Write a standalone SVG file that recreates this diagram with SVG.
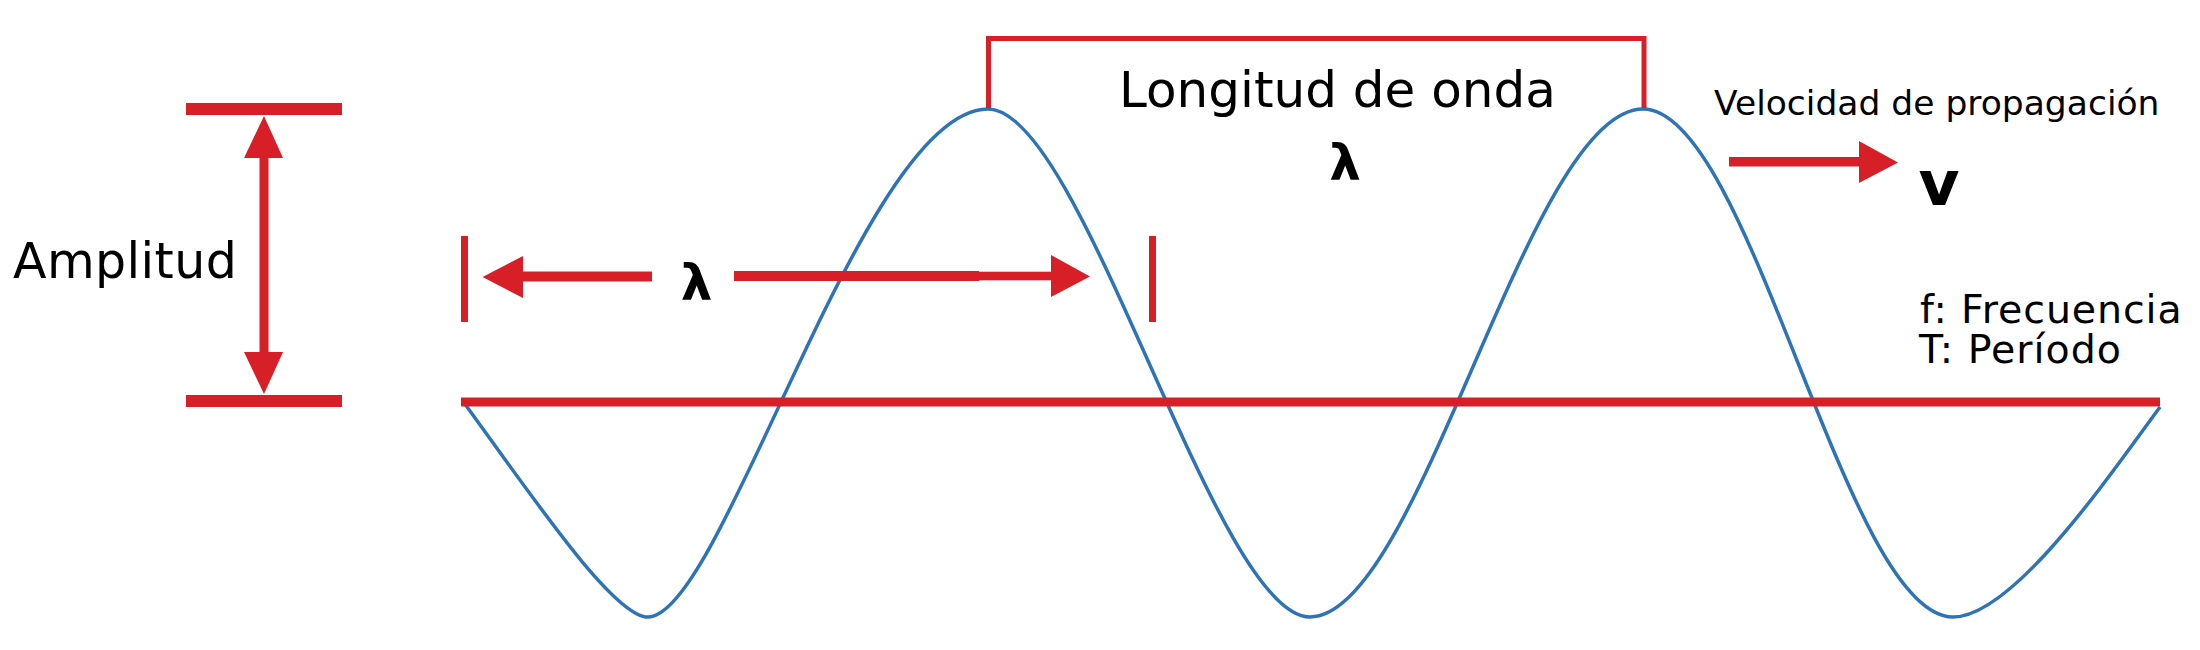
<svg xmlns="http://www.w3.org/2000/svg" width="2200" height="650" viewBox="0 0 2200 650">
<style>
.red{fill:#D71F27}
.wave{fill:none;stroke:#2E74B5;stroke-width:3.5;stroke-linejoin:round}
.bracket{fill:none;stroke:#D71F27;stroke-width:5}
.t{font-family:"DejaVu Sans","Verdana",sans-serif;fill:#000}
.b{font-family:"DejaVu Sans","Verdana",sans-serif;font-weight:bold;fill:#000}
</style>
<rect width="2200" height="650" fill="#fff"/>
<g id="wave">
<path class="wave" d="M462,400 C530,493 613,617 648,617 C723,617 863,109 988,109 C1083,109 1215,617 1310,617 C1420,617 1528,109 1643,109 C1751,109 1845,617 1953,617 C2013,617 2110,475 2160,407"/>
</g>
<g id="baseline">
<rect class="red" x="461" y="397.5" width="1699" height="9"/>
</g>
<g id="amplitud">
<rect class="red" x="186" y="103" width="156" height="12"/>
<rect class="red" x="186" y="395" width="156" height="12"/>
<rect class="red" x="259.5" y="156" width="9" height="198"/>
<polygon class="red" points="264,116 244,158 283,158"/>
<polygon class="red" points="244,352 283,352 264,394"/>
<text class="t" x="13" y="278" font-size="49" letter-spacing="0.4">Amplitud</text>
</g>
<g id="lambda-dim">
<rect class="red" x="461" y="236" width="7" height="86"/>
<rect class="red" x="1149" y="236" width="7" height="86"/>
<rect class="red" x="521" y="271.5" width="131" height="10"/>
<polygon class="red" points="482.5,277 523,256 523,298"/>
<rect class="red" x="734" y="271" width="245" height="10"/>
<rect class="red" x="978" y="271.7" width="75" height="8.6"/>
<polygon class="red" points="1051,255 1051,297 1090,276.5"/>
<text class="b" x="696.5" y="300" font-size="50" text-anchor="middle">λ</text>
</g>
<g id="longitud">
<polyline class="bracket" points="988.5,108 988.5,38.5 1644,38.5 1644,108"/>
<text class="t" x="1119" y="107" font-size="50">Longitud de onda</text>
<text class="b" x="1345" y="180" font-size="50" text-anchor="middle">λ</text>
</g>
<g id="velocidad">
<text class="t" x="1714" y="115" font-size="34.5">Velocidad de propagación</text>
<rect class="red" x="1729" y="157" width="132" height="9.5"/>
<polygon class="red" points="1859,141 1859,183 1898,162.5"/>
<text class="b" x="1939" y="205" font-size="63" text-anchor="middle">v</text>
</g>
<g id="legend">
<text class="t" x="1920" y="323.3" font-size="39.5" letter-spacing="0.9">f: Frecuencia</text>
<text class="t" x="1919" y="363.3" font-size="39.5" letter-spacing="1">T: Período</text>
</g>
</svg>
